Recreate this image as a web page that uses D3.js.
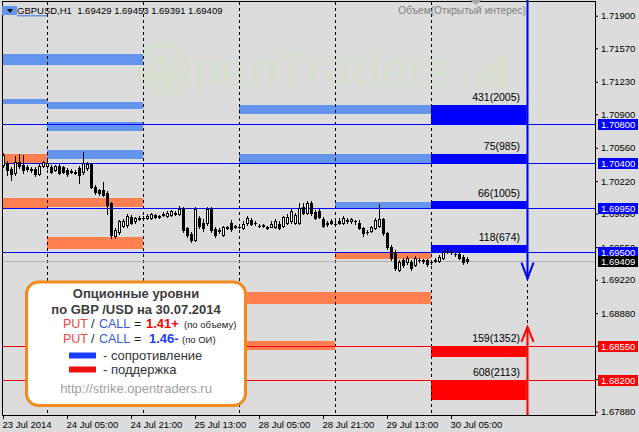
<!DOCTYPE html>
<html>
<head>
<meta charset="utf-8">
<script src="https://cdn.jsdelivr.net/npm/d3@7"></script>
<style>
  body { margin: 0; background: #dcdcdc; }
  svg { display: block; font-family: "Liberation Sans", Arial, sans-serif; }
</style>
</head>
<body>
<script>
// ---- data ----
var symbolInfo = "GBPUSD,H1\u00a0\u00a01.69429 1.69453 1.69391 1.69409";
var lastPrice = 1.69409;

// hourly candles [open, high, low, close], first bar = 23 Jul 13:00
var ohlc = [
  [1.7038,1.7051,1.7036,1.7049],[1.7040,1.7043,1.7028,1.7033],[1.7034,1.7036,1.7023,1.7029],[1.7030,1.7048,1.7028,1.7041],
  [1.7041,1.7050,1.7035,1.7037],[1.7038,1.7049,1.7030,1.7033],[1.7036,1.7038,1.7032,1.7034],[1.7034,1.7036,1.7031,1.7033],
  [1.7034,1.7036,1.7027,1.7029],[1.7029,1.7039,1.7028,1.7037],[1.7037,1.7043,1.7036,1.7041],[1.7037,1.7042,1.7035,1.7040],
  [1.7036,1.7038,1.7030,1.7031],[1.7033,1.7038,1.7032,1.7037],[1.7037,1.7039,1.7029,1.7030],[1.7036,1.7037,1.7030,1.7031],
  [1.7033,1.7035,1.7027,1.7029],[1.7032,1.7034,1.7030,1.7031],[1.7031,1.7033,1.7029,1.7030],[1.7035,1.7037,1.7020,1.7028],
  [1.7031,1.7052,1.7029,1.7040],[1.7035,1.7041,1.7033,1.7039],[1.7039,1.7040,1.7015,1.7016],[1.7016,1.7018,1.7009,1.7011],
  [1.7013,1.7014,1.7008,1.7010],[1.7013,1.7021,1.7007,1.7008],[1.7010,1.7012,1.6989,1.6998],[1.7000,1.7001,1.6964,1.6967],
  [1.6966,1.6974,1.6964,1.6972],[1.6970,1.6983,1.6968,1.6982],[1.6977,1.6984,1.6975,1.6982],[1.6978,1.6989,1.6976,1.6987],
  [1.6986,1.6988,1.6979,1.6980],[1.6982,1.6986,1.6980,1.6985],[1.6985,1.6987,1.6983,1.6984],[1.6985,1.6987,1.6983,1.6985],
  [1.6985,1.6989,1.6984,1.6987],[1.6985,1.6990,1.6984,1.6989],[1.6988,1.6989,1.6985,1.6986],[1.6987,1.6988,1.6985,1.6986],
  [1.6988,1.6991,1.6987,1.6989],[1.6987,1.6992,1.6986,1.6990],[1.6988,1.6993,1.6987,1.6992],[1.6990,1.6992,1.6988,1.6989],
  [1.6989,1.6997,1.6988,1.6994],[1.6995,1.6996,1.6970,1.6972],[1.6974,1.6976,1.6965,1.6967],[1.6968,1.6970,1.6960,1.6962],
  [1.6962,1.6996,1.6961,1.6994],[1.6985,1.6987,1.6974,1.6977],[1.6980,1.6984,1.6971,1.6974],[1.6980,1.6996,1.6978,1.6994],
  [1.6995,1.6996,1.6970,1.6972],[1.6973,1.6975,1.6965,1.6967],[1.6972,1.6974,1.6969,1.6971],[1.6967,1.6977,1.6966,1.6975],
  [1.6975,1.6977,1.6973,1.6974],[1.6980,1.6983,1.6971,1.6973],[1.6977,1.6978,1.6974,1.6976],[1.6976,1.6978,1.6974,1.6976],
  [1.6974,1.6982,1.6973,1.6979],[1.6980,1.6987,1.6978,1.6985],[1.6983,1.6985,1.6978,1.6979],[1.6980,1.6982,1.6978,1.6980],
  [1.6977,1.6979,1.6975,1.6977],[1.6978,1.6979,1.6976,1.6977],[1.6976,1.6977,1.6973,1.6974],[1.6976,1.6982,1.6975,1.6979],
  [1.6975,1.6984,1.6974,1.6982],[1.6979,1.6982,1.6973,1.6974],[1.6977,1.6987,1.6976,1.6986],[1.6980,1.6989,1.6979,1.6986],
  [1.6982,1.6994,1.6980,1.6992],[1.6980,1.6990,1.6979,1.6988],[1.6980,1.7000,1.6979,1.6995],[1.6996,1.7000,1.6989,1.6990],
  [1.6990,1.7002,1.6989,1.7000],[1.7000,1.7002,1.6988,1.6990],[1.6991,1.6993,1.6984,1.6985],[1.6992,1.6994,1.6985,1.6986],
  [1.6984,1.6986,1.6976,1.6977],[1.6980,1.6982,1.6977,1.6979],[1.6982,1.6984,1.6979,1.6980],[1.6979,1.6982,1.6978,1.6979],
  [1.6982,1.6985,1.6979,1.6980],[1.6980,1.6987,1.6979,1.6985],[1.6983,1.6985,1.6980,1.6982],[1.6982,1.6985,1.6980,1.6984],
  [1.6982,1.6983,1.6979,1.6982],[1.6980,1.6983,1.6973,1.6974],[1.6974,1.6976,1.6966,1.6969],[1.6970,1.6972,1.6968,1.6970],
  [1.6971,1.6977,1.6970,1.6975],[1.6974,1.6985,1.6973,1.6983],[1.6977,1.6999,1.6976,1.6984],[1.6984,1.6985,1.6967,1.6969],
  [1.6969,1.6970,1.6953,1.6955],[1.6955,1.6957,1.6942,1.6944],[1.6950,1.6952,1.6932,1.6934],[1.6932,1.6942,1.6931,1.6940],
  [1.6942,1.6944,1.6935,1.6937],[1.6940,1.6946,1.6938,1.6944],[1.6940,1.6942,1.6932,1.6934],[1.6937,1.6946,1.6936,1.6944],
  [1.6942,1.6944,1.6940,1.6942],[1.6942,1.6943,1.6939,1.6941],[1.6942,1.6943,1.6936,1.6938],[1.6940,1.6942,1.6938,1.6940],
  [1.6942,1.6944,1.6940,1.6941],[1.6941,1.6947,1.6940,1.6945],[1.6944,1.6952,1.6943,1.6950],[1.6951,1.6953,1.6949,1.6951],
  [1.6950,1.6952,1.6948,1.6950],[1.6948,1.6950,1.6946,1.6948],[1.6948,1.6950,1.6943,1.6944],[1.6945,1.6947,1.6938,1.6940],
  [1.69429,1.69453,1.69391,1.69409]
];

var timeTicks = [0, 16, 32, 48, 64, 80, 96, 112];
var timeLabels = ["23 Jul 2014", "24 Jul 05:00", "24 Jul 21:00", "25 Jul 13:00",
                  "28 Jul 05:00", "28 Jul 21:00", "29 Jul 13:00", "30 Jul 05:00"];
// bar index of each day's midnight: 23, 24, 25, 28, 29, 30, 31 Jul
var dayStart = [-13, 11, 35, 59, 83, 107, 131];
var priceTicks = [1.71900, 1.71570, 1.71230, 1.70900, 1.70560, 1.70220, 1.69890,
                  1.69550, 1.69220, 1.68880, 1.68550, 1.68210, 1.67880];

// earlier days' option levels: [first day, last day, strike, premium]
var oldCalls = [[0,1,1.7140,0.0011],[0,0,1.7100,0.0005],[1,1,1.7095,0.0007],[1,1,1.7073,0.0009],
                [1,1,1.7045,0.0009],[3,4,1.7090,0.0009],[3,4,1.7040,0.0010],[4,4,1.6995,0.0006]];
var oldPuts  = [[0,0,1.7050,0.0010],[0,0,1.7005,0.0010],[1,1,1.7005,0.0009],[1,1,1.6965,0.0012],
                [3,4,1.6910,0.0013],[3,3,1.6860,0.0009],[4,4,1.6950,0.0007]];

// 30 Jul levels
var callStrikes = [1.7080, 1.7040, 1.6995, 1.6950];
var callPremium = [0.0019, 0.0010, 0.0007, 0.0007];
var callVolume  = [431, 75, 66, 118];
var callOI      = [2005, 985, 1005, 674];
var putStrikes  = [1.6855, 1.6820];
var putPremium  = [0.0011, 0.0020];
var putVolume   = [159, 608];
var putOI       = [1352, 2113];
var arrowDown = 1.6923, arrowUp = 1.6874;

// ---- drawing ----
var w = 639, h = 432;
var svg = d3.select("body").append("svg").attr("width", w).attr("height", h);

var y = d3.scaleLinear().domain([1.67880, 1.71900]).range([411.7, 15.7]);
var x = d3.scaleLinear().domain([0, 1]).range([3, 7]);
var py = function(p) { return Math.round(y(p)); };
var px = function(i) { return Math.round(x(i)); };

svg.append("rect").attr("width", w).attr("height", h).attr("fill", "#dcdcdc");

// watermark
var wmc = "#d7e0ce";
var wm = svg.append("g").attr("fill", wmc);
wm.append("circle").attr("cx", 163.5).attr("cy", 69).attr("r", 24)
  .attr("fill", "none").attr("stroke", wmc).attr("stroke-width", 5);
wm.append("circle").attr("cx", 152).attr("cy", 63).attr("r", 4.5);
wm.append("circle").attr("cx", 163).attr("cy", 61).attr("r", 5.5);
wm.append("circle").attr("cx", 175).attr("cy", 63).attr("r", 4.5);
wm.append("ellipse").attr("cx", 163.5).attr("cy", 79).attr("rx", 10).attr("ry", 11);
wm.append("ellipse").attr("cx", 151).attr("cy", 75).attr("rx", 6).attr("ry", 7);
wm.append("ellipse").attr("cx", 176).attr("cy", 75).attr("rx", 6).attr("ry", 7);
wm.append("text").attr("x", 193).attr("y", 85).attr("font-size", 45)
  .attr("textLength", 258).attr("lengthAdjust", "spacingAndGlyphs").text("penTraders");
wm.append("rect").attr("x", 478).attr("y", 69).attr("width", 6).attr("height", 18);
wm.append("rect").attr("x", 487).attr("y", 63).attr("width", 7).attr("height", 24);
wm.append("rect").attr("x", 497).attr("y", 57).attr("width", 9).attr("height", 30);

svg.append("clipPath").attr("id", "plot").append("rect")
  .attr("x", 3).attr("y", 2).attr("width", 592).attr("height", 413);
var plot = svg.append("g").attr("clip-path", "url(#plot)");

// earlier days' level boxes
plot.selectAll(".oc").data(oldCalls).enter().append("rect")
  .attr("x", function(d) { return px(dayStart[d[0]]); })
  .attr("width", function(d) { return px(dayStart[d[1] + 1]) - px(dayStart[d[0]]); })
  .attr("y", function(d) { return py(d[2] + d[3]); })
  .attr("height", function(d) { return py(d[2]) - py(d[2] + d[3]); })
  .attr("fill", "#6495ed");
plot.selectAll(".op").data(oldPuts).enter().append("rect")
  .attr("x", function(d) { return px(dayStart[d[0]]); })
  .attr("width", function(d) { return px(dayStart[d[1] + 1]) - px(dayStart[d[0]]); })
  .attr("y", function(d) { return py(d[2]); })
  .attr("height", function(d) { return py(d[2] - d[3]) - py(d[2]); })
  .attr("fill", "#ff7f50");

// today's boxes
var t0 = px(dayStart[5]), t1 = px(dayStart[6]);
plot.selectAll(".tc").data(callStrikes).enter().append("rect")
  .attr("x", t0).attr("width", t1 - t0)
  .attr("y", function(d, i) { return py(d + callPremium[i]); })
  .attr("height", function(d, i) { return py(d) - py(d + callPremium[i]); })
  .attr("fill", "#0000ff");
plot.selectAll(".tp").data(putStrikes).enter().append("rect")
  .attr("x", t0).attr("width", t1 - t0)
  .attr("y", function(d) { return py(d); })
  .attr("height", function(d, i) { return py(d - putPremium[i]) - py(d); })
  .attr("fill", "#ff0000");

// day separators
plot.selectAll(".sep").data(dayStart.slice(1)).enter().append("line")
  .attr("x1", function(d) { return px(d) + 0.5; }).attr("x2", function(d) { return px(d) + 0.5; })
  .attr("y1", 2).attr("y2", 415)
  .attr("stroke", "#000").attr("stroke-dasharray", "3,3");

// level lines
plot.selectAll(".cl").data(callStrikes).enter().append("line")
  .attr("x1", 3).attr("x2", 595)
  .attr("y1", function(d) { return py(d) + 0.5; }).attr("y2", function(d) { return py(d) + 0.5; })
  .attr("stroke", "#0000ff");
plot.selectAll(".pl").data(putStrikes).enter().append("line")
  .attr("x1", 3).attr("x2", 595)
  .attr("y1", function(d) { return py(d) + 0.5; }).attr("y2", function(d) { return py(d) + 0.5; })
  .attr("stroke", "#ff0000");
plot.append("line").attr("x1", 3).attr("x2", 595)
  .attr("y1", py(lastPrice) + 0.5).attr("y2", py(lastPrice) + 0.5)
  .attr("stroke", "#b0b0b0");

// candles
var cg = plot.append("g");
ohlc.forEach(function(d, i) {
  var c = px(i), o = d[0], hi = d[1], lo = d[2], cl = d[3];
  cg.append("line").attr("x1", c + 0.5).attr("x2", c + 0.5)
    .attr("y1", py(hi)).attr("y2", py(lo) + 1).attr("stroke", "#000");
  var top = py(Math.max(o, cl)), bot = py(Math.min(o, cl));
  if (bot - top < 1) {
    cg.append("line").attr("x1", c - 1).attr("x2", c + 2)
      .attr("y1", top + 0.5).attr("y2", top + 0.5).attr("stroke", "#000");
  } else if (cl > o) {
    cg.append("rect").attr("x", c - 0.5).attr("y", top + 0.5)
      .attr("width", 2).attr("height", bot - top)
      .attr("fill", "#fff").attr("stroke", "#000");
  } else {
    cg.append("rect").attr("x", c - 1).attr("y", top)
      .attr("width", 3).attr("height", bot - top + 1).attr("fill", "#000");
  }
});

// labels on today's boxes
svg.selectAll(".clab").data(callStrikes).enter().append("text")
  .attr("x", 520).attr("y", function(d, i) { return y(d + callPremium[i]) - 4; })
  .attr("text-anchor", "end").attr("font-size", "10.5px").attr("fill", "#000")
  .text(function(d, i) { return callVolume[i] + "(" + callOI[i] + ")"; });
svg.selectAll(".plab").data(putStrikes).enter().append("text")
  .attr("x", 520).attr("y", function(d) { return y(d) - 4; })
  .attr("text-anchor", "end").attr("font-size", "10.5px").attr("fill", "#000")
  .text(function(d, i) { return putVolume[i] + "(" + putOI[i] + ")"; });

// arrows
var ax = t1 + 0.5;
svg.append("line").attr("x1", ax).attr("x2", ax).attr("y1", 0).attr("y2", y(arrowDown))
  .attr("stroke", "#4060ff").attr("stroke-width", 3).attr("stroke-opacity", 0.5);
svg.append("line").attr("x1", ax).attr("x2", ax).attr("y1", 0).attr("y2", y(arrowDown))
  .attr("stroke", "#0000ff").attr("stroke-width", 1.6);
svg.append("path")
  .attr("d", "M" + (ax - 6) + "," + (y(arrowDown) - 16) + "L" + ax + "," + y(arrowDown) + "L" + (ax + 6) + "," + (y(arrowDown) - 16))
  .attr("fill", "none").attr("stroke", "#0000ff").attr("stroke-width", 2);
svg.append("line").attr("x1", ax).attr("x2", ax).attr("y1", y(arrowUp)).attr("y2", 415)
  .attr("stroke", "#ff5050").attr("stroke-width", 3.5).attr("stroke-opacity", 0.45);
svg.append("line").attr("x1", ax).attr("x2", ax).attr("y1", y(arrowUp)).attr("y2", 415)
  .attr("stroke", "#ff0000").attr("stroke-width", 1.6);
svg.append("path")
  .attr("d", "M" + (ax - 6) + "," + (y(arrowUp) + 15) + "L" + ax + "," + y(arrowUp) + "L" + (ax + 6) + "," + (y(arrowUp) + 15))
  .attr("fill", "none").attr("stroke", "#ff0000").attr("stroke-width", 2);

// frame
svg.append("rect").attr("x", 2.5).attr("y", 1.5).attr("width", 593).attr("height", 414)
  .attr("fill", "none").attr("stroke", "#000");

// price axis
var yAxis = d3.axisRight(y).tickValues(priceTicks).tickFormat(d3.format(".5f"))
  .tickSize(3).tickPadding(3);
var gy = svg.append("g").attr("transform", "translate(595,0)").call(yAxis);
gy.select(".domain").remove();
gy.selectAll("text").attr("font-size", "9.5px").attr("font-family", "Liberation Sans, Arial, sans-serif").attr("fill", "#000");

// highlighted price labels
var marks = callStrikes.map(function(d) { return [d, "#0000ff"]; })
  .concat(putStrikes.map(function(d) { return [d, "#ff0000"]; }))
  .concat([[lastPrice, "#000000"]]);
var mg = svg.selectAll(".mark").data(marks).enter().append("g");
mg.append("rect").attr("x", 598).attr("width", 40).attr("height", 11)
  .attr("y", function(d) { return Math.round(y(d[0])) - 5; })
  .attr("fill", function(d) { return d[1]; });
mg.append("text").attr("x", 601).attr("y", function(d) { return Math.round(y(d[0])) + 4; })
  .attr("font-size", "9.5px").attr("fill", "#fff")
  .text(function(d) { return d3.format(".5f")(d[0]); });

// time axis
var xAxis = d3.axisBottom(x).tickValues(timeTicks)
  .tickFormat(function(d, i) { return timeLabels[i]; }).tickSize(4).tickPadding(2);
var gx = svg.append("g").attr("transform", "translate(0,415)").call(xAxis);
gx.select(".domain").remove();
gx.selectAll("text").attr("text-anchor", "start").attr("x", -1)
  .attr("font-size", "9.5px").attr("font-family", "Liberation Sans, Arial, sans-serif").attr("fill", "#000");

// header
svg.append("rect").attr("x", 2).attr("y", 6).attr("width", 15).attr("height", 9).attr("fill", "#6495ed");
svg.append("path").attr("d", "M7,9L13,9L10,13Z").attr("fill", "#000");
svg.append("rect").attr("x", 17).attr("y", 15).attr("width", 30).attr("height", 1.5).attr("fill", "#6495ed");
svg.append("text").attr("x", 17).attr("y", 14).attr("font-size", "9.5px").attr("fill", "#000").text(symbolInfo);
svg.append("text").attr("x", 526).attr("y", 14).attr("text-anchor", "end")
  .attr("font-size", "10.2px").attr("fill", "#808080").text("Объем(Открытый интерес)");
svg.append("path").attr("d", "M470,0L482,0L476,5Z").attr("fill", "#a8a8a8");

// legend
var lg = svg.append("g");
lg.append("rect").attr("x", 26.5).attr("y", 282).attr("width", 219).attr("height", 123.5)
  .attr("rx", 12).attr("fill", "#fff").attr("stroke", "#f28a1e").attr("stroke-width", 3);
lg.append("text").attr("x", 136).attr("y", 297.5).attr("text-anchor", "middle")
  .attr("font-size", "13px").attr("font-weight", "bold").attr("fill", "#3c3c3c").text("Опционные уровни");
lg.append("text").attr("x", 136).attr("y", 313.5).attr("text-anchor", "middle")
  .attr("font-size", "13px").attr("font-weight", "bold").attr("fill", "#3c3c3c").text("по GBP /USD на 30.07.2014");

function ratioRow(yy, val, valColor, note) {
  var t = lg.append("text").attr("y", yy).attr("font-size", "12.5px").attr("fill", "#222");
  t.append("tspan").attr("x", 63).attr("fill", "#ee4444").text("PUT");
  t.append("tspan").attr("x", 91).text("/");
  t.append("tspan").attr("x", 99).attr("fill", "#3558e0").text("CALL");
  t.append("tspan").attr("x", 134).text("=");
  t.append("tspan").attr("x", valColor == "#ff0000" ? 146 : 149).attr("font-weight", "bold")
    .attr("font-size", "13px").attr("fill", valColor).text(val);
  t.append("tspan").attr("x", valColor == "#ff0000" ? 184 : 182).attr("font-size", "9.5px").text(note);
}
ratioRow(327.5, "1.41+", "#ff0000", "(по объему)");
ratioRow(343, "1.46-", "#1a3cff", "(по ОИ)");

lg.append("rect").attr("x", 69).attr("y", 352.5).attr("width", 27).attr("height", 6).attr("fill", "#1a3cff");
lg.append("text").attr("x", 103).attr("y", 359.5).attr("font-size", "13px").attr("fill", "#333").text("- сопротивление");
lg.append("rect").attr("x", 69).attr("y", 366.5).attr("width", 27).attr("height", 6).attr("fill", "#f01010");
lg.append("text").attr("x", 103).attr("y", 373.5).attr("font-size", "13px").attr("fill", "#333").text("- поддержка");
lg.append("text").attr("x", 136).attr("y", 393).attr("text-anchor", "middle")
  .attr("font-size", "13px").attr("fill", "#a0a0a0").text("http://strike.opentraders.ru");
</script>
</body>
</html>
